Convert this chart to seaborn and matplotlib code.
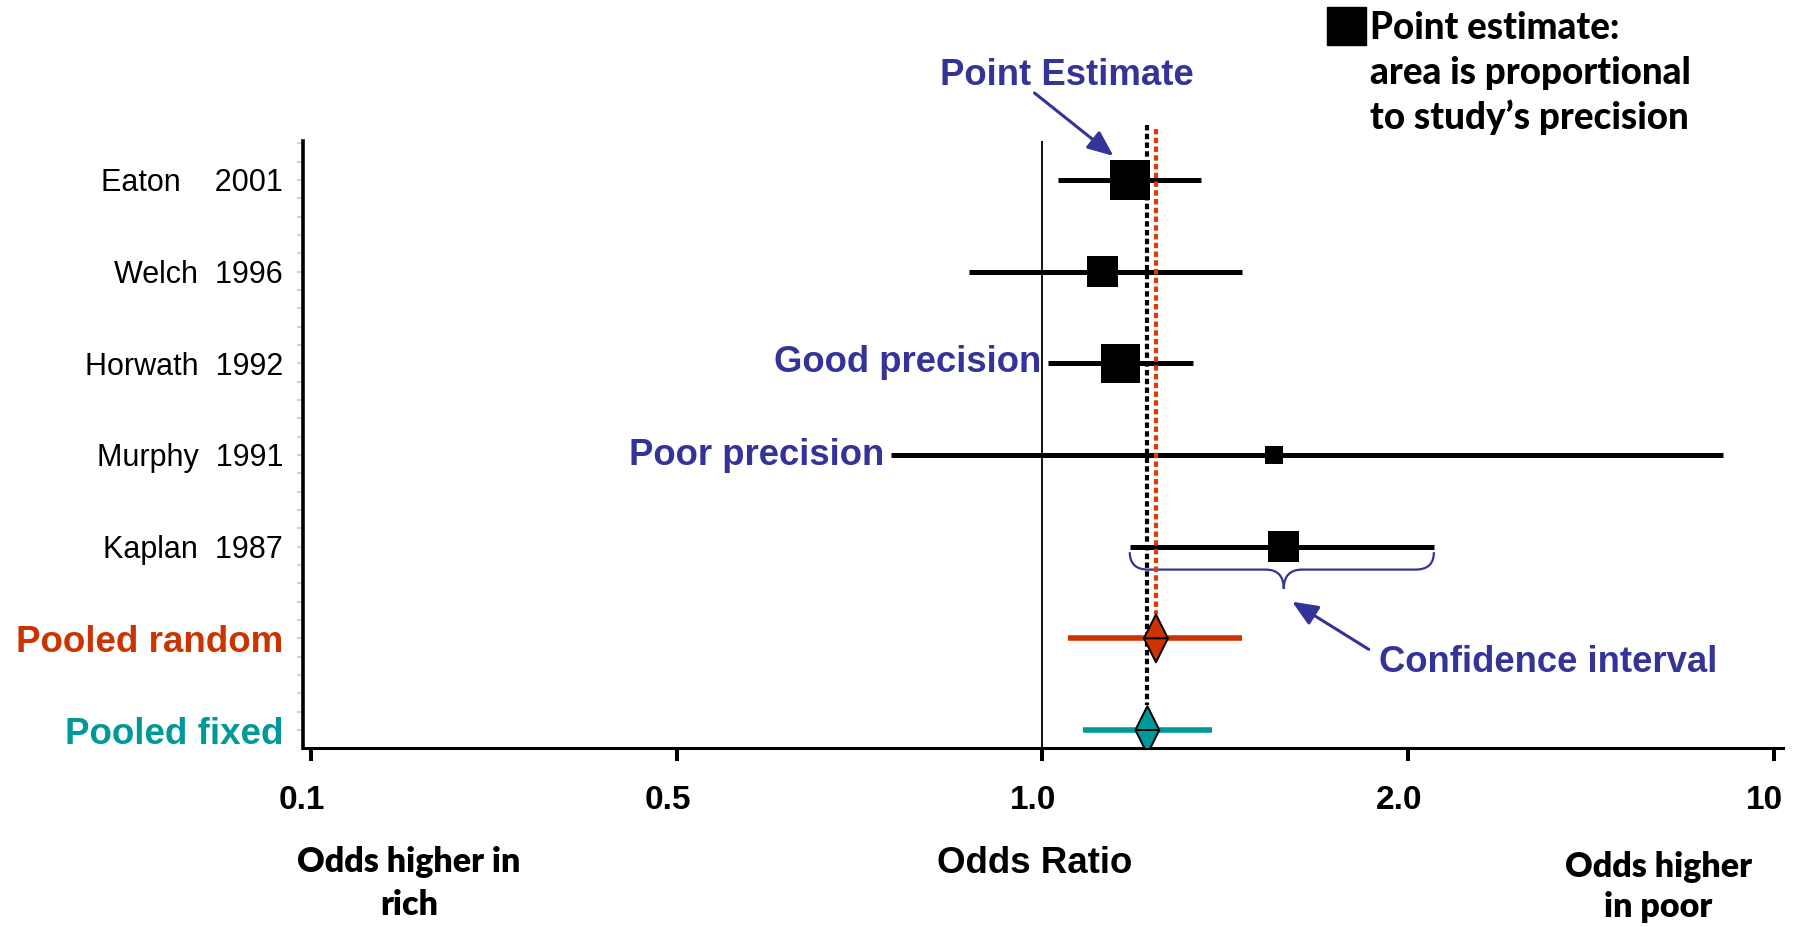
import numpy as np
import pandas as pd
import matplotlib
matplotlib.use("Agg")
import matplotlib.pyplot as plt
from matplotlib.path import Path
from matplotlib.patches import PathPatch, Rectangle
from matplotlib.transforms import ScaledTranslation
import seaborn as sns

# ---- data -------------------------------------------------------------
studies = ["Eaton    2001", "Welch  1996", "Horwath  1992", "Murphy  1991", "Kaplan  1987"]
odds_ratio = [1.18, 1.12, 1.16, 1.55, 1.58]
ci_low = [1.03, 0.87, 1.01, 0.75, 1.18]
ci_high = [1.35, 1.46, 1.33, 7.98, 2.24]
weight = [30, 18, 28, 6, 18]          # % weight, square area is proportional

pooled_labels = ["Pooled random", "Pooled fixed"]
pooled_or = [1.24, 1.22]
pooled_low = [1.05, 1.08]
pooled_high = [1.46, 1.38]
pooled_colors = ["#CC3300", "#009999"]

tick_values = [0.1, 0.5, 1.0, 2.0, 10]
tick_labels = ["0.1", "0.5", "1.0", "2.0", "10"]

BLUE = "#333399"

# ---- x scale: the labelled odds ratios are spaced evenly (log-piecewise) ----
log_ticks = np.log10(tick_values)
tick_pos = np.arange(len(tick_values), dtype=float)


def forward(x):
    lx = np.log10(np.maximum(np.asarray(x, dtype=float), 1e-12))
    u = np.interp(lx, log_ticks, tick_pos)
    s0 = 1.0 / (log_ticks[1] - log_ticks[0])
    s1 = 1.0 / (log_ticks[-1] - log_ticks[-2])
    u = np.where(lx < log_ticks[0], (lx - log_ticks[0]) * s0, u)
    u = np.where(lx > log_ticks[-1], tick_pos[-1] + (lx - log_ticks[-1]) * s1, u)
    return u


def inverse(u):
    u = np.asarray(u, dtype=float)
    lx = np.interp(u, tick_pos, log_ticks)
    lx = np.where(u < 0, log_ticks[0] + u * (log_ticks[1] - log_ticks[0]), lx)
    lx = np.where(u > tick_pos[-1],
                  log_ticks[-1] + (u - tick_pos[-1]) * (log_ticks[-1] - log_ticks[-2]), lx)
    return 10 ** lx


# ---- figure ----------------------------------------------------------------
sns.set_theme(style="white")
plt.rcParams["font.family"] = ["Liberation Sans", "DejaVu Sans"]
for key in ("text.color", "axes.labelcolor", "xtick.color", "ytick.color"):
    plt.rcParams[key] = "black"
plt.rcParams["xtick.labelsize"] = 24
plt.rcParams["ytick.labelsize"] = 22

W, H = 1794, 927
fig = plt.figure(figsize=(W / 100, H / 100), dpi=100)
ax = fig.add_axes([303 / W, 1 - 748 / H, (1783 - 303) / W, (748 - 141) / H])
ax.set_xscale("function", functions=(forward, inverse))

rows = np.arange(len(studies))
pooled_rows = np.arange(len(studies), len(studies) + len(pooled_labels))

df = pd.DataFrame({"study": studies, "or": odds_ratio, "lo": ci_low,
                   "hi": ci_high, "weight": weight, "row": rows})
pooled = pd.DataFrame({"label": pooled_labels, "or": pooled_or, "lo": pooled_low,
                       "hi": pooled_high, "row": pooled_rows})

# confidence intervals
ax.hlines(df["row"], df["lo"], df["hi"], colors="black", lw=3.6,
          capstyle="butt", zorder=3)
ax.hlines(pooled["row"], pooled["lo"], pooled["hi"], colors=pooled_colors,
          lw=4.0, capstyle="butt", zorder=3)

# point estimates: square area proportional to study weight
sns.scatterplot(data=df, x="or", y="row", size="weight", sizes=(0, 829),
                size_norm=(0, 30), marker="s", color="black", linewidth=0,
                legend=False, ax=ax, zorder=4)

# pooled estimates as diamonds with a centre rule
diamond = Path([(0, 0.5), (0.25, 0), (0, -0.5), (-0.25, 0), (0, 0.5),
                (-0.25, 0), (0.25, 0)],
               [Path.MOVETO, Path.LINETO, Path.LINETO, Path.LINETO, Path.CLOSEPOLY,
                Path.MOVETO, Path.LINETO])
sns.scatterplot(data=pooled, x="or", y="row", hue="label", palette=pooled_colors,
                marker=diamond, s=(48 * 0.72) ** 2, edgecolor="black",
                linewidth=1.4, legend=False, ax=ax, zorder=6)

# reference lines
ax.axvline(1.0, color="black", lw=1.3, zorder=2)
ax.vlines(pooled_or[1], -0.6, pooled_rows[1] - 0.27, colors="black", lw=3.0,
          linestyles=(0, (1.3, 0.8)), zorder=5, clip_on=False)
ax.vlines(pooled_or[0], -0.56, pooled_rows[0] - 0.27, colors="#DD3A0A", lw=3.0,
          linestyles=(0, (1.3, 0.8)), zorder=5, clip_on=False)

# axes limits and ticks
ax.set_xlim(inverse(-0.022), inverse(4.025))
ax.set_ylim(6.196, -0.425)
ax.set_xticks(tick_values, tick_labels)
ax.xaxis.set_minor_locator(matplotlib.ticker.NullLocator())
ax.tick_params(axis="x", which="major", direction="out", length=9.4, width=2.9,
               color="black", labelcolor="black", labelsize=24, pad=17, bottom=True)
shift = ScaledTranslation(-9 / 100, 0, fig.dpi_scale_trans)
for lab in ax.get_xticklabels():
    lab.set_fontweight("bold")
    lab.set_fontsize(24)
    lab.set_transform(lab.get_transform() + shift)

all_rows = np.concatenate([rows, pooled_rows])
ax.set_yticks(all_rows, studies + pooled_labels)
ax.set_yticks(np.arange(-0.4, 6.2, 0.2), minor=True)
ax.tick_params(axis="y", which="both", direction="out", length=4.3, width=1.2,
               color="#c8c8c8", pad=10, left=True)
for lab in ax.get_yticklabels()[:len(studies)]:
    lab.set_fontsize(22)
    lab.set_color("black")
for lab, col in zip(ax.get_yticklabels()[len(studies):], pooled_colors):
    lab.set_fontsize(26.5)
    lab.set_fontweight("bold")
    lab.set_color(col)

for side in ("top", "right"):
    ax.spines[side].set_visible(False)
ax.spines["left"].set_linewidth(2.6)
ax.spines["bottom"].set_linewidth(2.2)
ax.spines["left"].set_color("black")
ax.spines["bottom"].set_color("black")

ax.set_xlabel("Odds Ratio", fontsize=26.4, fontweight="bold", color="black")
ax.xaxis.label.set_va("baseline")
ax.xaxis.set_label_coords((1035 - 303) / 1480, -(873 - 748) / 607)
ax.set_ylabel("")

# ---- annotations -------------------------------------------------------------
ann = dict(color=BLUE, fontsize=26.3, fontweight="bold")
ax.text(1.048, -1.036, "Point Estimate", ha="center", va="baseline", **ann)
ax.annotate("", xy=(1.144, -0.262), xytext=(0.985, -0.949),
            arrowprops=dict(arrowstyle="-|>,head_length=1.3,head_width=0.55",
                            color=BLUE, lw=2.2, shrinkA=0, shrinkB=0),
            annotation_clip=False)

nudge = ScaledTranslation(-6 / 100, 0, fig.dpi_scale_trans)
ax.text(ci_low[2], 2.10, "Good precision", ha="right", va="baseline",
        transform=ax.transData + nudge, **ann)
ax.text(ci_low[3], 3.11, "Poor precision", ha="right", va="baseline",
        transform=ax.transData + nudge, **ann)

ax.text(3.70, 5.37, "Confidence interval", ha="center", va="baseline", **ann)
ax.annotate("", xy=(1.605, 4.60), xytext=(1.856, 5.12),
            arrowprops=dict(arrowstyle="-|>,head_length=1.3,head_width=0.55",
                            color=BLUE, lw=2.2, shrinkA=0, shrinkB=0),
            annotation_clip=False)

# curly brace under the Kaplan interval
uL, uM, uR = forward([ci_low[4], odds_ratio[4], ci_high[4]])
y0, y1, y2 = 4.06, 4.25, 4.46
r = 0.05
brace_u = [(uL, y0), (uL, y1), (uL + r, y1), (uM - r, y1), (uM, y1), (uM, y2),
           (uM, y1), (uM + r, y1), (uR - r, y1), (uR, y1), (uR, y0)]
codes = [Path.MOVETO, Path.CURVE3, Path.CURVE3, Path.LINETO, Path.CURVE3,
         Path.CURVE3, Path.CURVE3, Path.CURVE3, Path.LINETO, Path.CURVE3, Path.CURVE3]
brace_xy = [(float(inverse(u)), y) for u, y in brace_u]
ax.add_patch(PathPatch(Path(brace_xy, codes), facecolor="none", edgecolor=BLUE,
                       lw=1.6, zorder=3))

# ---- key in the corner -------------------------------------------------------
fig.add_artist(Rectangle((1327 / W, 1 - 45 / H), 39 / W, 38 / H,
                         transform=fig.transFigure, color="black"))
key_font = dict(family=["Lato", "DejaVu Sans"], fontweight=900, fontsize=26.5,
                color="black")
for txt, base in [("Point estimate:", 39), ("area is proportional", 84),
                  ("to study\u2019s precision", 129)]:
    fig.text(1370 / W, 1 - base / H, txt, ha="left", va="baseline", **key_font)

# ---- direction labels under the axis -------------------------------------------
side_font = dict(family=["Lato", "DejaVu Sans"], fontweight="heavy", fontsize=24.5,
                 color="black", ha="center", va="baseline")
fig.text(409 / W, 1 - 872 / H, "Odds higher in", **side_font)
fig.text(409 / W, 1 - 915 / H, "rich", **side_font)
fig.text(1658 / W, 1 - 877 / H, "Odds higher", **side_font)
fig.text(1658 / W, 1 - 917 / H, "in poor", **side_font)

fig.savefig("out.png", dpi=100, facecolor="white")
